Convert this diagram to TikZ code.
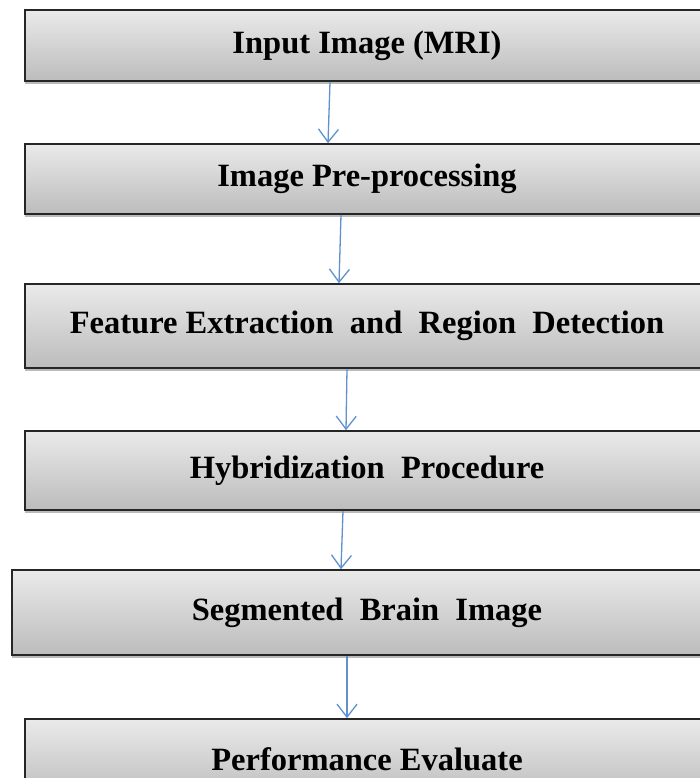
\documentclass[tikz,border=0pt]{standalone}
\usepackage{fontspec}
\setmainfont{Liberation Serif}
\usetikzlibrary{arrows.meta,shadows}
\definecolor{boxtop}{RGB}{234,234,234}
\definecolor{boxbot}{RGB}{188,188,188}
\definecolor{flowblue}{RGB}{95,145,205}

\begin{document}
\begin{tikzpicture}[x=1pt,y=-1pt,
    stage/.style={rectangle, draw=black!85, line width=1.6pt,
                  top color=boxtop, bottom color=boxbot,
                  font=\fontsize{32.5}{36}\selectfont\bfseries,
                  drop shadow={shadow xshift=0pt, shadow yshift=-3pt,
                               fill=black!45, opacity=.6}},
    flow/.style={draw=flowblue, line width=1.3pt,
                 -{Straight Barb[length=13pt,width=20pt]}}]

    \useasboundingbox (0,0) rectangle (700,778);
    \clip (0,0) rectangle (700,778);

    \node[stage, minimum width=684pt, minimum height=71pt] (inp)  at (367,45.5)  {Input Image (MRI)};
    \node[stage, minimum width=684pt, minimum height=70pt] (pre)  at (367,179)   {Image Pre-processing};
    \node[stage, minimum width=684pt, minimum height=84pt] (feat) at (367,326)   {Feature Extraction\ \ and\ \ Region\ \ Detection};
    \node[stage, minimum width=684pt, minimum height=79pt] (hyb)  at (367,470.5) {Hybridization\ \ Procedure};
    \node[stage, minimum width=710pt, minimum height=85pt] (seg)  at (367,612.5) {Segmented\ \ Brain\ \ Image};
    \node[stage, minimum width=684pt, minimum height=80pt] (perf) at (367,759)   {Performance Evaluate};

    \draw[flow] ([xshift=-37pt]inp.south)  -- ([xshift=-39pt]pre.north);
    \draw[flow] ([xshift=-26pt]pre.south)  -- ([xshift=-28pt]feat.north);
    \draw[flow] ([xshift=-20pt]feat.south) -- ([xshift=-21pt]hyb.north);
    \draw[flow] ([xshift=-24pt]hyb.south)  -- ([xshift=-26pt]seg.north);
    \draw[flow] ([xshift=-20pt]seg.south)  -- ([xshift=-20pt]perf.north);
\end{tikzpicture}
\end{document}
